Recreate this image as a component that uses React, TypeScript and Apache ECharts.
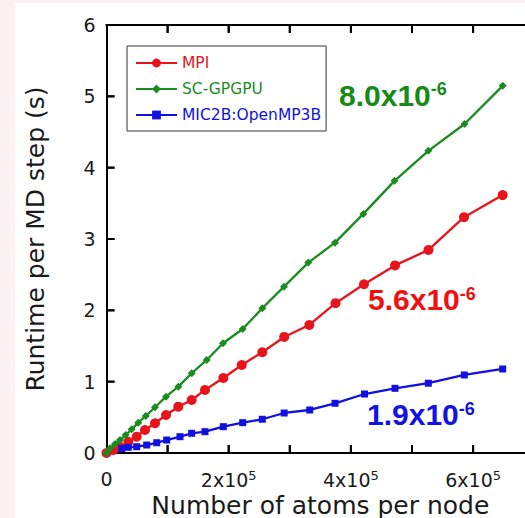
import React, { useEffect, useRef } from 'react';
import * as echarts from 'echarts';

// ---- data (x: atoms per node, y: runtime per MD step in s) ----
const mpiX = [0, 11100, 22100, 35700, 49400, 63000, 79400, 97400, 117500, 139400, 161200, 191200, 221300, 255000, 290800, 331900, 374800, 421400, 472200, 527000, 585100, 648400];
const mpiY = [0, 0.042, 0.088, 0.158, 0.229, 0.323, 0.417, 0.533, 0.649, 0.743, 0.884, 1.052, 1.234, 1.412, 1.627, 1.795, 2.1, 2.366, 2.63, 2.847, 3.306, 3.616];

const gpuX = [0, 5700, 13900, 22100, 31400, 41200, 52000, 64200, 79400, 97400, 117500, 139400, 164000, 190700, 222900, 255000, 290500, 330300, 374000, 420300, 471400, 526700, 585900, 648400];
const gpuY = [0, 0.066, 0.126, 0.182, 0.252, 0.332, 0.425, 0.519, 0.641, 0.79, 0.93, 1.118, 1.304, 1.539, 1.739, 2.029, 2.332, 2.669, 2.949, 3.352, 3.815, 4.236, 4.612, 5.147];

const micX = [24900, 35700, 49400, 65800, 82200, 98500, 120300, 139400, 161200, 191200, 222900, 255000, 290800, 332600, 374000, 422300, 472200, 526700, 585600, 648400];
const micY = [0.063, 0.08, 0.088, 0.112, 0.144, 0.182, 0.229, 0.276, 0.299, 0.369, 0.425, 0.473, 0.561, 0.603, 0.697, 0.827, 0.907, 0.978, 1.094, 1.178];

const seriesNames = ['MPI', 'SC-GPGPU', 'MIC2B:OpenMP3B'];
const seriesColors = ['#e8141c', '#1a8c1f', '#1010e0'];
const seriesSymbols = ['circle', 'diamond', 'rect'];
const seriesSymbolSizes = [10, 8, 7];

// axis ticks (drawn inward) and labels
const xTickValues = [100000, 200000, 300000, 400000, 500000, 600000];
const yTickValues = [1, 2, 3, 4, 5];
const xLabelValues = [0, 200000, 400000, 600000];
const X_MIN = 0;
const X_MAX = 700000;
const Y_MIN = 0;
const Y_MAX = 6;
const TICK_LEN = 8;

const slopeMantissas = ['8.0x10', '5.6x10', '1.9x10'];
const slopeExponent = '-6';
const slopeColors = ['#178a17', '#f01010', '#1212e6'];

const xTitle = 'Number of atoms per node';
const yTitle = 'Runtime per MD step (s)';

const AXIS_FONT = '"DejaVu Sans", sans-serif';
const ANN_FONT = '"Liberation Sans", Arial, sans-serif';
const TEXT_COLOR = '#1a1a1a';

function zip(xs: number[], ys: number[]) {
  return xs.map((x, i) => [x, ys[i]]);
}

function tickSeries(name: string, data: number[][], size: number[], offset: number[]) {
  return {
    name, type: 'line', data, symbol: 'rect', symbolSize: size, symbolOffset: offset, showSymbol: true,
    showAllSymbol: true, lineStyle: { width: 0, opacity: 0 }, itemStyle: { color: '#000', borderWidth: 0 },
    silent: true, clip: false, z: 6,
  };
}

export default function App() {
  const ref = useRef<HTMLDivElement>(null);
  useEffect(() => {
    const chart = echarts.init(ref.current!, null, { renderer: 'svg' });
    const datasets = [zip(mpiX, mpiY), zip(gpuX, gpuY), zip(micX, micY)];

    const annPos = [
      { x: 339, y: 95 },
      { x: 368, y: 299.5 },
      { x: 367, y: 414.5 },
    ];
    const annGraphics: any[] = slopeMantissas.map((m, i) => ({
      type: 'text', x: annPos[i].x, y: annPos[i].y, z: 10,
      style: {
        text: `{m|${m}}{e|${slopeExponent}}`,
        align: 'left', verticalAlign: 'middle',
        rich: {
          m: { fill: slopeColors[i], fontFamily: ANN_FONT, fontWeight: 'bold', fontSize: 30, lineHeight: 30, verticalAlign: 'bottom' },
          e: { fill: slopeColors[i], fontFamily: ANN_FONT, fontWeight: 'bold', fontSize: 18, lineHeight: 16, verticalAlign: 'top' },
        },
      },
    }));
    const baseGraphics: any[] = [
      { type: 'rect', shape: { x: 0, y: 0, width: 15, height: 518 }, style: { fill: '#fcf2f4' }, silent: true },
      { type: 'rect', shape: { x: 0, y: 0, width: 525, height: 3 }, style: { fill: '#fcf2f4' }, silent: true },
      ...annGraphics,
    ];

    const axisLine = { show: true, onZero: false, lineStyle: { color: '#000', width: 2 } };

    const option: any = {
      animation: false,
      backgroundColor: '#ffffff',
      grid: { left: 106.5, top: 25, width: 427.7, height: 428, containLabel: false, outerBoundsMode: 'none' },
      graphic: baseGraphics,
      legend: {
        orient: 'vertical',
        left: 127,
        top: 46,
        itemWidth: 41,
        itemHeight: 11,
        itemGap: 10,
        padding: [9, 5, 8, 8],
        borderColor: '#333',
        borderWidth: 1,
        backgroundColor: '#fff',
        textStyle: { fontFamily: AXIS_FONT, fontSize: 15.5, lineHeight: 15 },
        data: seriesNames.map((n, i) => ({ name: n, textStyle: { color: seriesColors[i] } })),
      },
      xAxis: {
        type: 'value', min: X_MIN, max: X_MAX, interval: 100000, position: 'bottom',
        name: xTitle, nameLocation: 'middle', nameGap: 40, nameMoveOverlap: false,
        nameTextStyle: { fontFamily: AXIS_FONT, fontSize: 25, color: TEXT_COLOR },
        axisLine, axisTick: { show: false }, splitLine: { show: false },
        axisLabel: {
          margin: 16,
          formatter: (v: number) => {
            if (v === 0) return '{z|0}';
            if (xLabelValues.indexOf(v) >= 0) return `{a|${v / 100000}x10}{s|5}`;
            return '';
          },
          rich: {
            z: { fontFamily: AXIS_FONT, fontSize: 19, color: TEXT_COLOR, lineHeight: 12, verticalAlign: 'top' },
            a: { fontFamily: AXIS_FONT, fontSize: 19, color: TEXT_COLOR, lineHeight: 20, verticalAlign: 'bottom' },
            s: { fontFamily: AXIS_FONT, fontSize: 13, color: TEXT_COLOR, lineHeight: 2, verticalAlign: 'top' },
          },
        },
      },
      yAxis: {
        type: 'value', min: Y_MIN, max: Y_MAX, interval: 1, position: 'left',
        name: yTitle, nameLocation: 'middle', nameGap: 59, nameRotate: 90, nameMoveOverlap: false,
        nameTextStyle: { fontFamily: AXIS_FONT, fontSize: 25, color: TEXT_COLOR },
        axisLine, axisTick: { show: false }, splitLine: { show: false },
        axisLabel: { margin: 11, fontFamily: AXIS_FONT, fontSize: 19, color: TEXT_COLOR, padding: [0, 0, 3, 0] },
      },
      series: [
        {
          name: 'frame-top', type: 'line', data: [[X_MIN, Y_MAX], [X_MAX, Y_MAX]], symbol: 'none',
          lineStyle: { color: '#000', width: 2 }, silent: true, clip: false, z: 5,
        },
        tickSeries('ticks-bottom', xTickValues.map((v) => [v, Y_MIN]), [2, TICK_LEN], [0, -TICK_LEN / 2]),
        tickSeries('ticks-top', xTickValues.map((v) => [v, Y_MAX]), [2, TICK_LEN], [0, TICK_LEN / 2]),
        tickSeries('ticks-left', yTickValues.map((v) => [X_MIN, v]), [TICK_LEN, 2], [TICK_LEN / 2, 0]),
        ...seriesNames.map((n, i) => ({
          name: n,
          type: 'line',
          data: datasets[i],
          symbol: seriesSymbols[i],
          symbolSize: seriesSymbolSizes[i],
          showAllSymbol: true,
          lineStyle: { color: seriesColors[i], width: 2.3 },
          itemStyle: { color: seriesColors[i], borderWidth: 0 },
          z: 2 + i,
        })),
      ],
    };
    chart.setOption(option);

    // frame top + inward ticks as graphic lines placed through the chart's own scales
    try {
      const px = (x: number, y: number) => chart.convertToPixel({ gridIndex: 0 }, [x, y]) as number[];
      const stroke = { stroke: '#000', lineWidth: 2 };
      const extra: any[] = [];
      const tl = px(X_MIN, Y_MAX);
      const tr = px(X_MAX, Y_MAX);
      extra.push({ type: 'line', z: 100, silent: true, shape: { x1: tl[0] - 1, y1: tl[1], x2: tr[0], y2: tr[1] }, style: stroke });
      xTickValues.forEach((v) => {
        const b = px(v, Y_MIN);
        const t = px(v, Y_MAX);
        extra.push({ type: 'line', z: 100, silent: true, shape: { x1: b[0], y1: b[1], x2: b[0], y2: b[1] - TICK_LEN }, style: stroke });
        extra.push({ type: 'line', z: 100, silent: true, shape: { x1: t[0], y1: t[1], x2: t[0], y2: t[1] + TICK_LEN }, style: stroke });
      });
      yTickValues.forEach((v) => {
        const l = px(X_MIN, v);
        extra.push({ type: 'line', z: 100, silent: true, shape: { x1: l[0], y1: l[1], x2: l[0] + TICK_LEN, y2: l[1] }, style: stroke });
      });
      chart.setOption({ graphic: [...baseGraphics, ...extra] });
    } catch (e) {
      // keep chart as is
    }
    return () => chart.dispose();
  }, []);
  return <div ref={ref} style={{ position: 'fixed', left: 0, top: 0, width: 525, height: 518 }} />;
}
